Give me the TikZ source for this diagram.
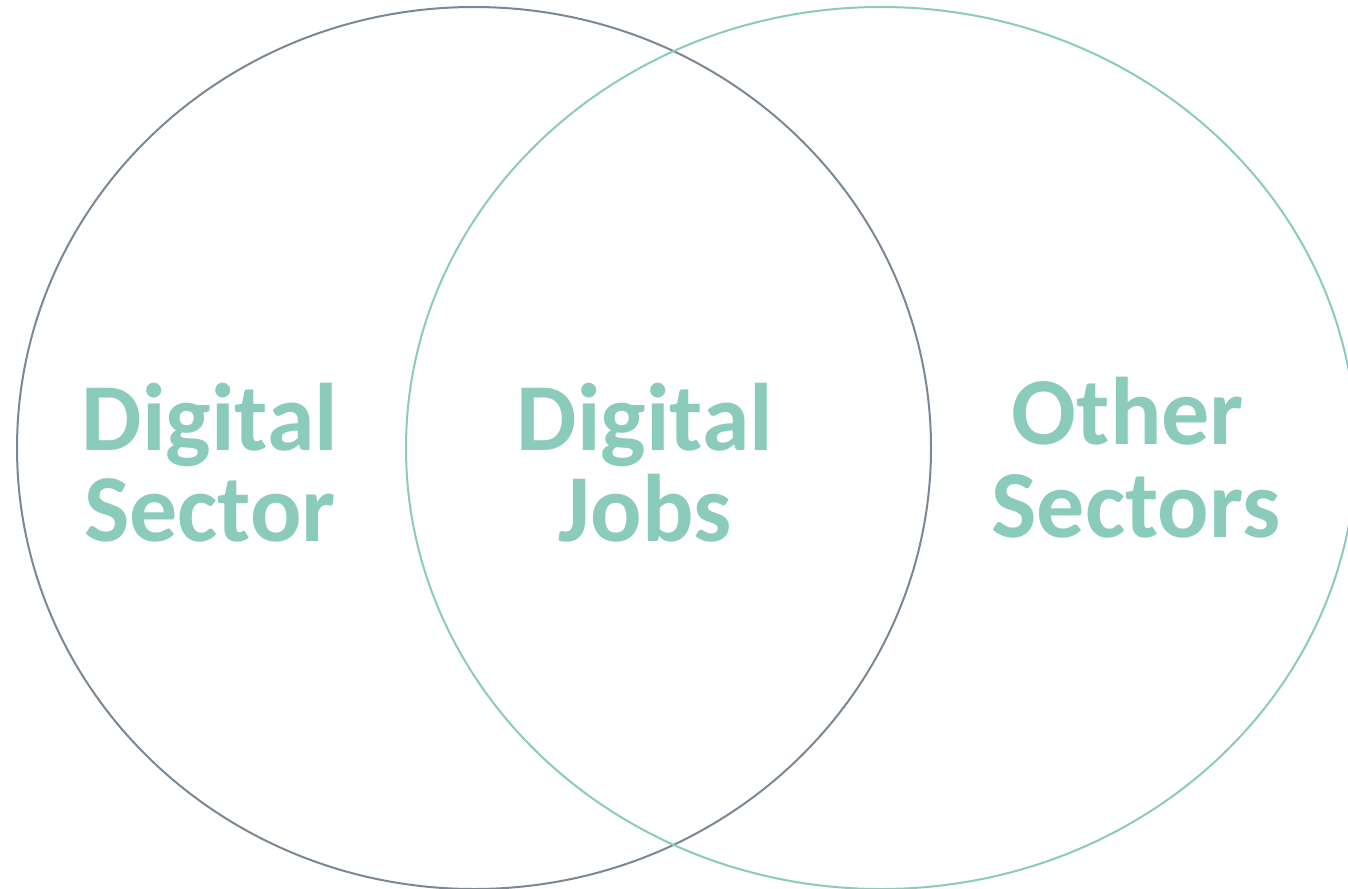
\documentclass[tikz,border=0pt]{standalone}
\usepackage{fontspec}
\setmainfont{Carlito}
\definecolor{greyline}{HTML}{7B8794}
\definecolor{teal}{HTML}{8ACBBC}
\begin{document}
\begin{tikzpicture}[x=1pt,y=-1pt,
  lbl/.style={text=teal,font=\fontsize{96}{96}\selectfont\bfseries,inner sep=0pt,anchor=base},
  ring/.style={line width=2pt}]
\useasboundingbox (0,0) rectangle (1348,888);
\draw[ring,greyline] (474,448) ellipse [x radius=457, y radius=441];
\draw[ring,teal] (881,448) ellipse [x radius=475, y radius=441];
\node[lbl] (ds1) at (210,450) {Digital};
\node[lbl] (ds2) at (210,541) {Sector};
\node[lbl] (dj1) at (645,450) {Digital};
\node[lbl] (dj2) at (645,541) {Jobs};
\node[lbl] (os1) at (1128,444) {Other};
\node[lbl] (os2) at (1136,537) {Sectors};
\end{tikzpicture}
\end{document}
